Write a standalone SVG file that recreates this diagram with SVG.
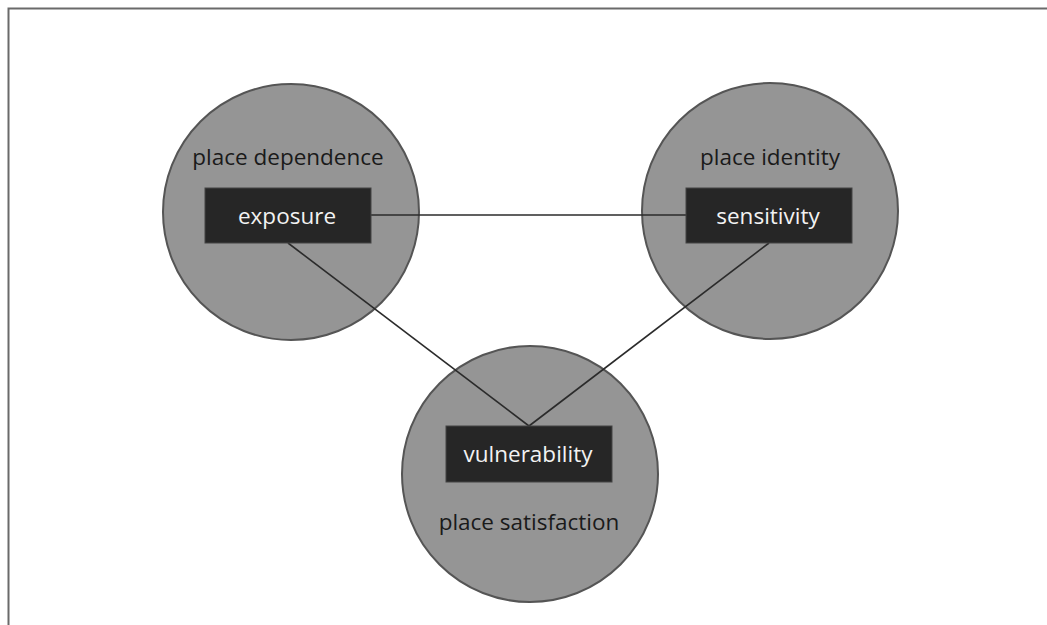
<svg xmlns="http://www.w3.org/2000/svg" width="1047" height="625" viewBox="0 0 1047 625">
<style>
.circ{fill:#959595;stroke:#555;stroke-width:2}
.box{fill:#262626;stroke:#444;stroke-width:1}
.lbl{font-family:"Open Sans","Noto Sans",sans-serif;font-size:22.5px;fill:#1a1a1a;text-anchor:middle}
.in{font-family:"Open Sans","Noto Sans",sans-serif;font-size:22.5px;fill:#f2f2f2;text-anchor:middle}
.edge{stroke:#2b2b2b;stroke-width:1.6;fill:none}
</style>
<rect x="0" y="0" width="1047" height="625" fill="#fff"/>
<path d="M8.5 1047 V8.5 H1047" fill="none" stroke="#6a6a6a" stroke-width="2"/>
<g id="node-dependence">
<circle class="circ" cx="291" cy="212" r="128"/>
<text class="lbl" x="288" y="165">place dependence</text>
</g>
<g id="node-identity">
<circle class="circ" cx="770" cy="211" r="128"/>
<text class="lbl" x="770" y="165">place identity</text>
</g>
<g id="node-satisfaction">
<circle class="circ" cx="530" cy="474" r="128"/>
<text class="lbl" x="529" y="530">place satisfaction</text>
</g>
<g id="connectors">
<line class="edge" x1="371" y1="215" x2="686" y2="215"/>
<line class="edge" x1="288" y1="243" x2="529" y2="426"/>
<line class="edge" x1="769" y1="243" x2="529" y2="426"/>
</g>
<g id="node-exposure">
<rect class="box" x="205" y="188" width="166" height="55"/>
<text class="in" x="287" y="224">exposure</text>
</g>
<g id="node-sensitivity">
<rect class="box" x="686" y="188" width="166" height="55"/>
<text class="in" x="768" y="224">sensitivity</text>
</g>
<g id="node-vulnerability">
<rect class="box" x="446" y="426" width="166" height="56"/>
<text class="in" x="528" y="462">vulnerability</text>
</g>
</svg>
